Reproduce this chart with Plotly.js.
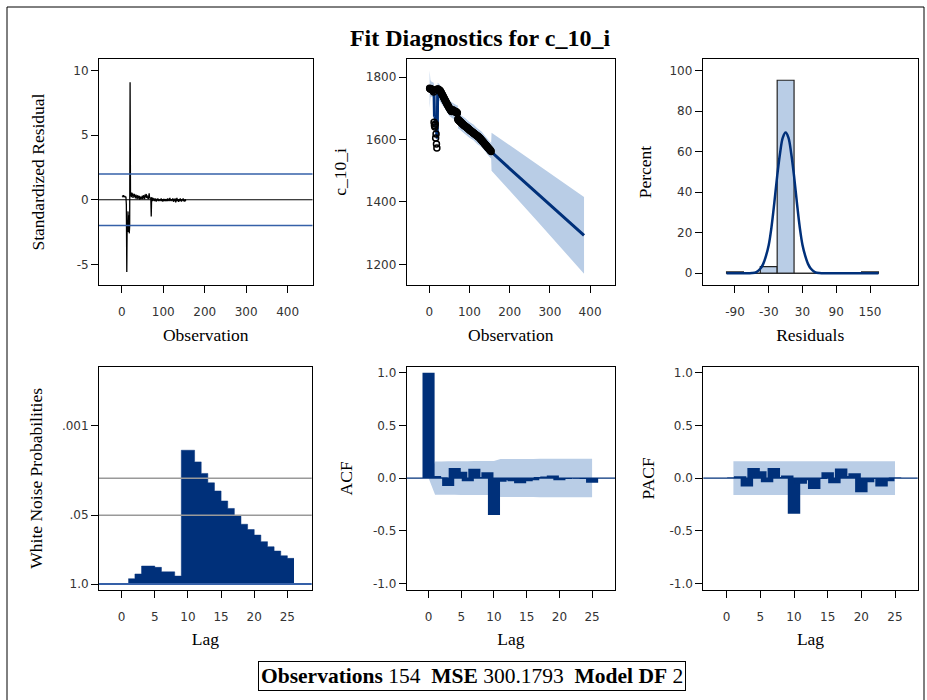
<!DOCTYPE html>
<html><head><meta charset="utf-8">
<script src="https://cdn.plot.ly/plotly-3.0.1.min.js"></script>
<style>html,body{margin:0;padding:0;background:#fff}</style>
</head><body><div id="chart" style="width:927px;height:700px"></div>
<script>
// ---------------- DATA ----------------
const chartTitle = 'Fit Diagnostics for c_10_i';
const seriesName = 'c_10_i';
const nObs = 154, mse = '300.1793', modelDF = 2;

// standardized residuals, observations 1..154
const stdResid = [
 0.25,0.30,0.20,0.35,0.28,0.22,0.30,0.18,0.25,0.20,
 -0.40,-5.60,-1.60,-2.20,-0.90,-2.50,-1.20,-2.60,-2.00,9.10,
 0.30,0.45,0.20,0.55,0.35,0.50,0.15,0.40,0.30,0.45,
 0.20,0.35,0.10,0.40,0.25,0.30,0.05,0.35,0.15,0.20,
 0.10,0.30,0.00,0.25,0.15,0.05,0.20,0.10,0.30,0.05,
 0.15,0.35,0.10,0.25,0.05,0.40,0.20,0.30,0.45,0.15,
 0.35,0.10,0.25,0.05,0.30,0.50,0.15,0.20,0.05,0.10,
 -1.30,0.20,0.05,-0.10,0.15,0.00,-0.05,0.10,-0.10,0.05,
 -0.05,0.10,-0.15,0.05,-0.05,0.00,0.10,-0.10,0.05,-0.05,
 0.00,-0.10,0.05,-0.05,0.10,-0.10,0.00,0.05,-0.15,0.00,
 0.05,-0.05,-0.10,0.00,0.05,-0.10,0.00,-0.05,0.05,-0.10,
 0.10,-0.05,0.00,-0.10,0.05,0.15,-0.05,0.00,-0.10,0.05,
 -0.05,0.00,0.10,-0.10,-0.15,0.00,0.05,-0.10,0.10,-0.20,
 0.00,-0.05,0.15,-0.10,0.05,-0.05,-0.15,0.00,0.05,-0.10,
 0.10,-0.05,0.00,-0.15,0.05,-0.05,0.00,0.10,-0.10,-0.05,0.00,-0.15,0.05,-0.10];

// observed c_10_i
const observed = [
 1764,1763,1762,1763,1761,1760,1761,1759,1758,1758,
 1752,1655,1645,1640,1650,1605,1618,1586,1573,1761,
 1762,1760,1761,1758,1759,1756,1757,1754,1752,1750,
 1747,1745,1742,1740,1737,1735,1732,1730,1727,1725,
 1722,1720,1717,1715,1712,1710,1708,1706,1703,1701,
 1699,1697,1695,1693,1691,1690,1692,1694,1695,1694,
 1693,1691,1690,1689,1688,1690,1689,1687,1686,1685,
 1665,1664,1662,1661,1660,1658,1657,1656,1655,1653,
 1652,1651,1650,1648,1647,1646,1645,1644,1643,1642,
 1641,1640,1639,1638,1637,1636,1635,1634,1632,1631,
 1630,1629,1628,1627,1626,1625,1624,1623,1622,1621,
 1620,1619,1618,1617,1616,1615,1614,1613,1612,1611,
 1610,1609,1608,1607,1606,1604,1603,1601,1600,1598,
 1597,1595,1594,1592,1591,1589,1588,1586,1585,1583,
 1582,1580,1579,1577,1576,1574,1573,1571,1570,1568,1567,1565,1564,1562];

// one-step-ahead predictions
const predicted = [
 1758,1763,1762,1761,1762,1760,1759,1760,1758,1757,
 1758,1752,1673,1678,1666,1648,1639,1631,1608,1603,
 1757,1752,1758,1748,1753,1747,1754,1747,1747,1742,
 1744,1739,1740,1733,1733,1730,1731,1724,1724,1722,
 1720,1715,1717,1711,1709,1709,1705,1704,1698,1700,
 1696,1691,1693,1689,1690,1683,1689,1689,1687,1691,
 1687,1689,1686,1688,1683,1681,1686,1684,1685,1683,
 1687,1661,1661,1663,1657,1658,1658,1654,1657,1652,
 1653,1649,1653,1647,1648,1646,1643,1646,1642,1643,
 1641,1642,1638,1639,1635,1638,1635,1633,1635,1631,
 1629,1630,1630,1627,1625,1627,1624,1624,1621,1623,
 1618,1620,1618,1619,1615,1612,1615,1613,1614,1610,
 1611,1609,1606,1609,1609,1604,1602,1603,1598,1601,
 1597,1596,1591,1594,1590,1590,1591,1586,1584,1585,
 1580,1581,1579,1580,1575,1575,1573,1569,1572,1569,1567,1568,1563,1564];

// forecast beyond the data
const forecastObs = [155, 200, 250, 300, 350, 385];
const forecastVal = [1560, 1507, 1450, 1390, 1333, 1293];

// confidence band (read at sample observations)
const bandObs   = [1,3,6,10,11,12,13,14,15,16,17,18,19,20,21,25,30,40,50,60,70,71,72,80,90,100,110,120,130,140,150,154,155,270,385];
const bandUpper = [1822,1790,1785,1782,1782,1776,1698,1703,1691,1673,1664,1656,1633,1628,1782,1778,1767,1747,1725,1716,1708,1712,1686,1677,1668,1656,1648,1635,1626,1610,1594,1589,1622,1520,1416];
const bandLower = [1700,1735,1738,1735,1734,1728,1648,1653,1641,1623,1614,1606,1583,1578,1732,1728,1717,1697,1675,1666,1658,1662,1636,1627,1618,1606,1598,1585,1576,1560,1544,1539,1500,1337,1170];

// residual histogram (bin midpoints, percent)
const binMid = [-90,-60,-30,0,30,60,90,120,150];
const binWidth = 30;
const binPct = [0.65,0,3.25,95.3,0,0,0,0,0.65];
// normal density curve (percent)
const normX = [-105,-75,-60,-52,-45,-40,-35,-30,-25,-20,-15,-10,-5,0,5,10,15,20,25,30,35,40,45,52,60,75,105,135,165];
const normY = [0,0,0.1,0.6,2.2,4.5,8.5,14,23,35,48,59,67,69.5,67,59,48,35,23,14,8.5,4.5,2.2,0.6,0.1,0,0,0,0];

// white noise probabilities by lag
const wnLag  = [1,2,3,4,5,6,7,8,9,10,11,12,13,14,15,16,17,18,19,20,21,22,23,24,25];
const wnProb = [0.794,0.646,0.457,0.457,0.484,0.589,0.589,0.708,0.00295,0.00295,0.0049,0.0081,0.0122,0.0174,0.0269,0.0372,0.0519,0.0741,0.0933,0.1186,0.158,0.197,0.238,0.292,0.327];
const wnTickProb = [1.0, 0.05, 0.001];
const wnTickText = ['1.0', '.05', '.001'];
const wnRefProb = [0.01, 0.05];

// ACF / PACF
const acfLag = [0,1,2,3,4,5,6,7,8,9,10,11,12,13,14,15,16,17,18,19,20,21,22,23,24,25];
const acfVal = [1.0,0.02,0.005,-0.075,0.095,0.06,-0.03,0.087,0.01,0.055,-0.35,-0.035,-0.02,-0.03,-0.05,-0.03,-0.02,0.01,0.015,0.025,-0.02,-0.01,0.0,-0.005,-0.01,-0.045];
const acfBand = [0,0.158,0.158,0.159,0.159,0.160,0.160,0.161,0.162,0.162,0.162,0.180,0.180,0.181,0.181,0.181,0.181,0.182,0.182,0.182,0.182,0.182,0.182,0.182,0.182,0.182];
const pacfLag = [1,2,3,4,5,6,7,8,9,10,11,12,13,14,15,16,17,18,19,20,21,22,23,24,25];
const pacfVal = [0.005,0.016,-0.08,0.095,0.065,-0.04,0.095,0.01,0.025,-0.34,-0.055,-0.02,-0.105,-0.01,0.055,-0.05,0.09,0.02,0.045,-0.135,-0.04,-0.01,-0.08,-0.03,0.005];
const pacfBand = [0.16,0.16,0.16,0.16,0.16,0.16,0.16,0.16,0.16,0.16,0.16,0.16,0.16,0.16,0.16,0.16,0.16,0.16,0.16,0.16,0.16,0.16,0.16,0.16,0.16];

// tick labels
const obsTicks = [0,100,200,300,400];
const residTicks = [-5,0,5,10], residTickText = ['-5','0','5','10'];
const levelTicks = [1200,1400,1600,1800];
const histTicks = [-90,-30,30,90,150], histTickText = ['-90','-30','30','90','150'];
const pctTicks = [0,20,40,60,80,100];
const lagTicks = [0,5,10,15,20,25];
const corrTicks = [-1,-0.5,0,0.5,1], corrTickText = ['-1.0','-0.5','0.0','0.5','1.0'];

// ---------------- STYLE ----------------
const W = 927, H = 700;
const navy = '#00307a', light = '#b9cde6', refBlue = '#3560a8';
const tickFont = {family:'DejaVu Sans', size:12, color:'#333333'};
const titleFont = {family:'Liberation Serif', size:17.5, color:'#000'};
const hx = (a,b) => [a/W, b/W];
const vy = (top,bottom) => [1-bottom/H, 1-top/H];

const obsIdx = observed.map((_, i) => i + 1);
const negLog = p => -Math.log10(p);

function ax(extra){
  return Object.assign({showline:true, mirror:true, linecolor:'#000', linewidth:1,
    ticks:'outside', ticklen:7, tickcolor:'#000', tickwidth:1, showgrid:false, zeroline:false,
    tickfont:tickFont, fixedrange:true}, extra);
}
function xax(extra){ return ax(Object.assign({ticklabelstandoff:9}, extra)); }

// band polygon (as a shape drawn beneath the bars)
function bandPath(lags, half){
  let d = '';
  lags.forEach((l,i)=>{ d += (i===0?'M':'L') + l + ',' + half[i]; });
  for(let i=lags.length-1;i>=0;i--){ d += 'L' + lags[i] + ',' + (-half[i]); }
  return d + 'Z';
}

const traces = [];
// P1 residuals
traces.push({x:obsIdx, y:stdResid, type:'scatter', mode:'lines', line:{color:'#000', width:1.3}, xaxis:'x', yaxis:'y'});
// P2 band, fitted+forecast, observed
traces.push({x:bandObs.concat(bandObs.slice().reverse()), y:bandUpper.concat(bandLower.slice().reverse()),
  type:'scatter', mode:'lines', fill:'toself', fillcolor:light, line:{width:0}, xaxis:'x2', yaxis:'y2'});
traces.push({x:obsIdx.concat(forecastObs), y:predicted.concat(forecastVal), type:'scatter', mode:'lines',
  line:{color:navy, width:3}, xaxis:'x2', yaxis:'y2'});
traces.push({x:obsIdx, y:observed, type:'scatter', mode:'markers',
  marker:{symbol:'circle-open', size:6, color:'#000', line:{width:1.5, color:'#000'}}, xaxis:'x2', yaxis:'y2'});
// P3 histogram
traces.push({x:binMid, y:binPct, type:'bar', width:binWidth, marker:{color:light, line:{color:'#222', width:1.2}}, xaxis:'x3', yaxis:'y3'});
traces.push({x:[binMid[0]-binWidth/2, binMid[binMid.length-1]+binWidth/2], y:[0,0], type:'scatter', mode:'lines',
  line:{color:'#222', width:1.2}, xaxis:'x3', yaxis:'y3'});
traces.push({x:normX, y:normY, type:'scatter', mode:'lines', line:{color:navy, width:2.5, shape:'spline'}, xaxis:'x3', yaxis:'y3'});
// P4 white noise (step area)
const wnY = wnProb.map(negLog);
traces.push({x:wnLag.concat([wnLag[wnLag.length-1]+1]), y:wnY.concat([wnY[wnY.length-1]]), type:'scatter', mode:'lines',
  line:{shape:'hv', color:navy, width:0.5}, fill:'tozeroy', fillcolor:navy, xaxis:'x4', yaxis:'y4'});
// P5 ACF
traces.push({x:acfLag, y:acfVal, type:'bar', width:1.85, marker:{color:navy, line:{width:0}}, xaxis:'x5', yaxis:'y5'});
// P6 PACF
traces.push({x:pacfLag, y:pacfVal, type:'bar', width:1.85, marker:{color:navy, line:{width:0}}, xaxis:'x6', yaxis:'y6'});

function hline(xr, yr, y, color, width, layer){
  return {type:'line', xref:xr+' domain', yref:yr, x0:0, x1:1, y0:y, y1:y, line:{color:color, width:width}, layer:layer||'above'};
}
const shapes = [
  {type:'path', xref:'x5', yref:'y5', path:bandPath(acfLag, acfBand), fillcolor:light, line:{width:0}, layer:'below'},
  {type:'path', xref:'x6', yref:'y6', path:bandPath(pacfLag, pacfBand), fillcolor:light, line:{width:0}, layer:'below'},
  hline('x','y',0,'#000',1.2), hline('x','y',2,refBlue,1.5), hline('x','y',-2,refBlue,1.5),
  hline('x4','y4',0,refBlue,2), hline('x4','y4',negLog(wnRefProb[0]),'#999',1.5), hline('x4','y4',negLog(wnRefProb[1]),'#999',1.5),
  hline('x5','y5',0,navy,1.2), hline('x6','y6',0,navy,1.2),
  {type:'rect', xref:'paper', yref:'paper', x0:7/W, x1:924/W, y0:-0.02, y1:1-7/H, line:{color:'#000', width:1}, fillcolor:'rgba(0,0,0,0)'}
];

const xT = (t, s) => ({text:t, font:titleFont, standoff:s});
const yT = (t, s) => ({text:t, font:titleFont, standoff:s});

const layout = {
  width:W, height:H, margin:{l:0,r:0,t:0,b:0}, paper_bgcolor:'#fff', plot_bgcolor:'#fff', showlegend:false,
  barmode:'overlay',
  title:{text:chartTitle, font:{family:'Liberation Serif', size:24, color:'#000', weight:'bold'}, x:480/W, xanchor:'center', y:1-38/H, yanchor:'middle'},
  xaxis: xax({domain:hx(99,312.5), range:[-55,460], tickvals:obsTicks, title:xT('Observation',10), anchor:'y'}),
  yaxis: ax({domain:vy(59,285), range:[-6.6,10.9], tickvals:residTicks, ticktext:residTickText, title:yT('Standardized Residual',24), anchor:'x'}),
  xaxis2: xax({domain:hx(406.7,615), range:[-56,462], tickvals:obsTicks, title:xT('Observation',10), anchor:'y2'}),
  yaxis2: ax({domain:vy(59,285), range:[1134,1858], tickvals:levelTicks, title:yT(seriesName,14), anchor:'x2'}),
  xaxis3: xax({domain:hx(702.7,917.7), range:[-147.4,234.8], tickvals:histTicks, ticktext:histTickText, title:xT('Residuals',10), anchor:'y3'}),
  yaxis3: ax({domain:vy(59,285), range:[-5.8,105.8], tickvals:pctTicks, title:yT('Percent',13), anchor:'x3'}),
  xaxis4: xax({domain:hx(99,311.7), range:[-3.42,28.67], tickvals:lagTicks, title:xT('Lag',9), anchor:'y4'}),
  yaxis4: ax({domain:vy(366.7,590), range:[-0.113,4.11], tickvals:wnTickProb.map(negLog), ticktext:wnTickText, title:yT('White Noise Probabilities',14), anchor:'x4'}),
  xaxis5: xax({domain:hx(406.7,615), range:[-3.34,28.5], tickvals:lagTicks, title:xT('Lag',9), anchor:'y5'}),
  yaxis5: ax({domain:vy(366.7,590), range:[-1.063,1.057], tickvals:corrTicks, ticktext:corrTickText, title:yT('ACF',15), anchor:'x5'}),
  xaxis6: xax({domain:hx(703.3,917.7), range:[-3.47,28.37], tickvals:lagTicks, title:xT('Lag',9), anchor:'y6'}),
  yaxis6: ax({domain:vy(366.7,590), range:[-1.063,1.057], tickvals:corrTicks, ticktext:corrTickText, title:yT('PACF',10), anchor:'x6'}),
  shapes: shapes,
  annotations: [{
    text:'<b>Observations</b> ' + nObs + ' &nbsp;<b>MSE</b> ' + mse + ' &nbsp;<b>Model DF</b> ' + modelDF,
    xref:'paper', yref:'paper', x:471.5/W, y:1-676/H, xanchor:'center', yanchor:'middle', showarrow:false,
    font:{family:'Liberation Serif', size:21.5, color:'#000'}, bordercolor:'#000', borderwidth:1, borderpad:2, bgcolor:'#fff'
  }]
};

Plotly.newPlot('chart', traces, layout, {staticPlot:true, displayModeBar:false});
</script></body></html>
